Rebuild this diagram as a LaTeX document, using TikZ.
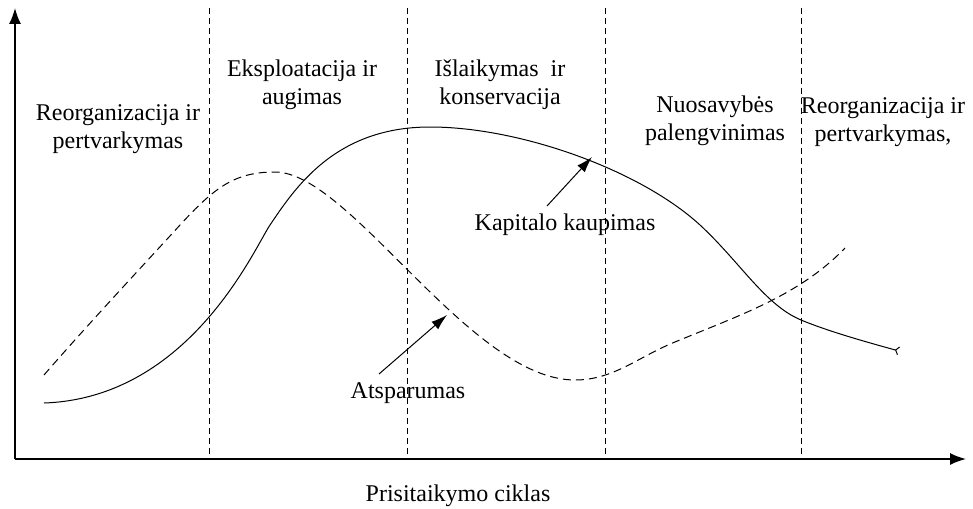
\documentclass[tikz,border=0pt]{standalone}
\usepackage{fontspec}
\setmainfont{Liberation Serif}
\usetikzlibrary{arrows.meta}

\begin{document}
\begin{tikzpicture}[x=0.5pt,y=-0.5pt,
	lbl/.style={align=center,inner sep=0pt,font=\fontsize{12}{14}\selectfont},
	phase/.style={densely dashed,line width=0.4pt},
	axis/.style={line width=0.8pt,-{Latex[length=8pt,width=6pt]}},
	pointer/.style={line width=0.5pt,-{Latex[length=8pt,width=5pt]}}]
	\useasboundingbox (0,0) rectangle (973,508);
	% axes
	\coordinate (o) at (15,459);
	\coordinate (ytop) at (15,8);
	\coordinate (xend) at (966,459);
	\draw [axis] (o) to (ytop);
	\draw [axis] (o) to (xend);
	% phase borders
	\foreach \px/\pn in {209/b1,407/b2,605/b3,801/b4} {
		\coordinate (\pn t) at (\px,8);
		\coordinate (\pn b) at (\px,459);
		\draw [phase] (\pn t) to (\pn b);
	}
	% phase labels
	\node at (118,129) [lbl] (p1) {Reorganizacija ir\\pertvarkymas};
	\node at (302,85) [lbl] (p2) {Eksploatacija ir\\augimas};
	\node at (500,85) [lbl] (p3) {Išlaikymas~~ir\\konservacija};
	\node at (715,121) [lbl] (p4) {Nuosavybės\\palengvinimas};
	\node at (883,122) [lbl] (p5) {Reorganizacija ir\\pertvarkymas,};
	% capital curve
	\draw [line width=0.5pt,-{Straight Barb[reversed,length=1.5pt,width=4pt]}]
		(44,403) .. controls (190,398) and (255,247) .. (270,225)
		.. controls (295,188) and (335,127) .. (430,127)
		.. controls (520,127) and (640,170) .. (700,225)
		.. controls (740,262) and (765,305) .. (801,320)
		.. controls (830,332) and (870,343) .. (899,351);
	% resilience curve
	\draw [line width=0.5pt,dash pattern=on 4pt off 2.5pt]
		(44,375) .. controls (90,322) and (150,258) .. (180,225)
		.. controls (215,187) and (235,172) .. (275,172)
		.. controls (350,172) and (470,380) .. (575,380)
		.. controls (615,380) and (640,355) .. (680,340)
		.. controls (740,315) and (800,295) .. (845,248);
	% labels with pointers
	\node at (565,225) [lbl] (kap) {Kapitalo kaupimas};
	\node at (408,393) [lbl] (ats) {Atsparumas};
	\node at (458,496) [lbl] (cikl) {Prisitaikymo ciklas};
	\coordinate (kaps) at (547,206);
	\coordinate (kapt) at (592,157);
	\coordinate (atss) at (379,374);
	\coordinate (atst) at (447,315);
	\draw [pointer] (kaps) to (kapt);
	\draw [pointer] (atss) to (atst);
\end{tikzpicture}
\end{document}
